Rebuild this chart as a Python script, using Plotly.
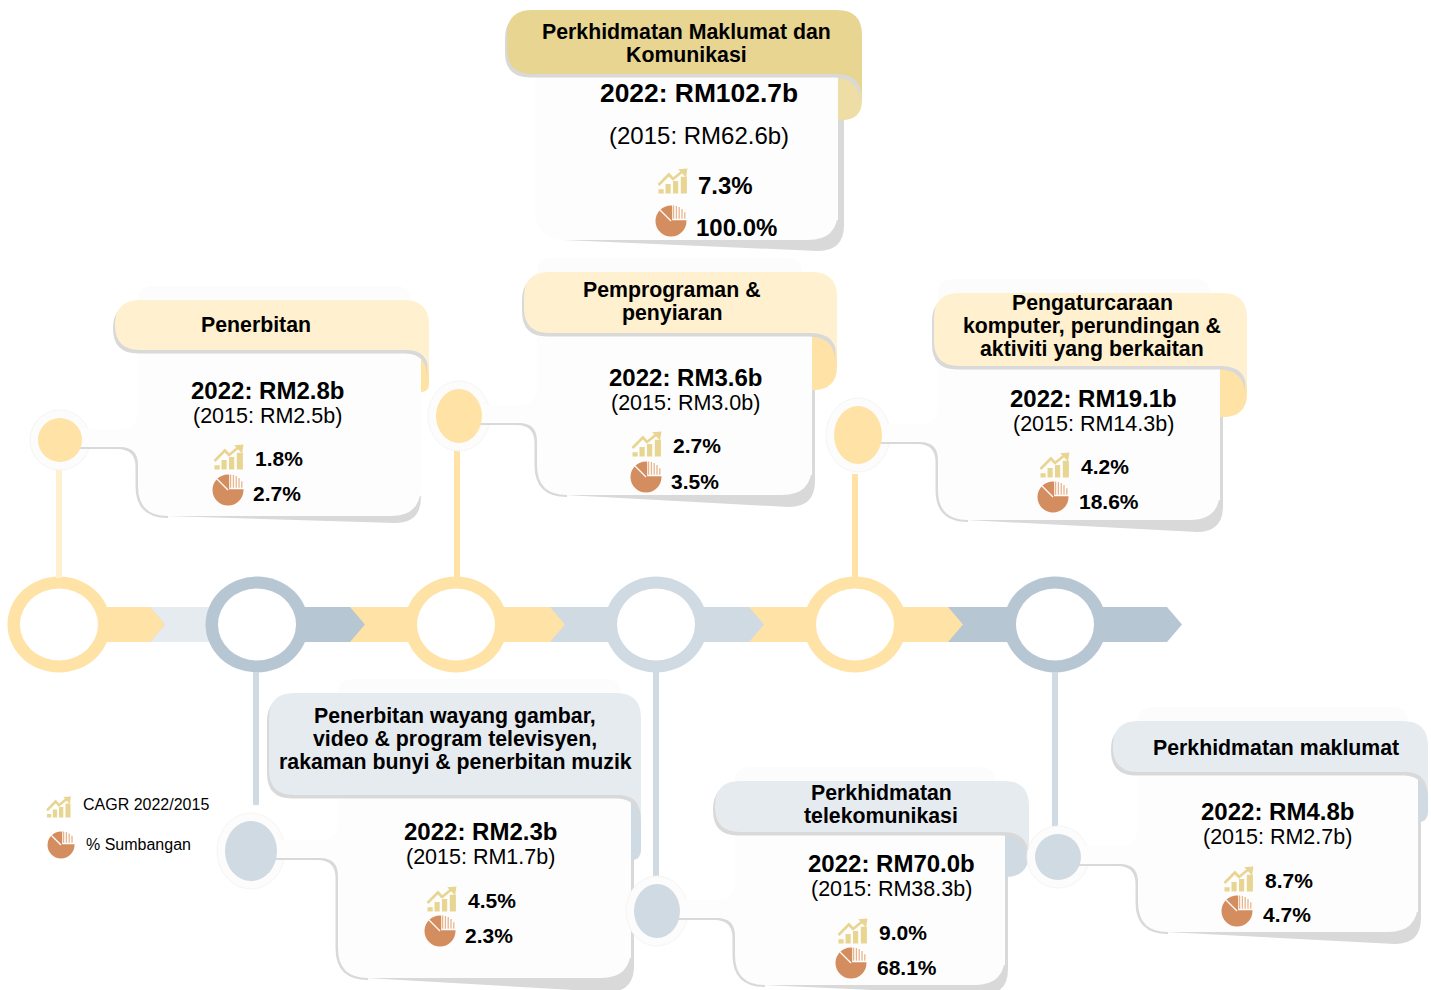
import math
import plotly.graph_objects as go

# ---------- data ----------
title_lines = [
    ["Perkhidmatan Maklumat dan", "Komunikasi"],
    ["Penerbitan"],
    ["Pemprograman &", "penyiaran"],
    ["Pengaturcaraan", "komputer, perundingan &", "aktiviti yang berkaitan"],
    ["Penerbitan wayang gambar,", "video & program televisyen,", "rakaman bunyi & penerbitan muzik"],
    ["Perkhidmatan", "telekomunikasi"],
    ["Perkhidmatan maklumat"],
]
value_2022 = [102.7, 2.8, 3.6, 19.1, 2.3, 70.0, 4.8]
value_2015 = [62.6, 2.5, 3.0, 14.3, 1.7, 38.3, 2.7]
cagr_pct = [7.3, 1.8, 2.7, 4.2, 4.5, 9.0, 8.7]
share_pct = [100.0, 2.7, 3.5, 18.6, 2.3, 68.1, 4.7]
legend_labels = ["CAGR 2022/2015", "% Sumbangan"]

# ---------- layout / styling (pixel space) ----------
FONT = "Liberation Sans"
YEL, YEL_L = "#FFE2A6", "#FFF0CF"
GR, GR_L, GR_D = "#CFDAE2", "#E6EBF0", "#B7C6D3"
SHADOW = "#D9D9D9"
BODY = "#FDFDFD"
HALO = "#FCFCFC"
ICON = "#E8D592"
PIE = "#D38D5F"

shapes = []
notes = []


def add_path(d, fill=None, line=None, lw=0):
    s = dict(type="path", path=d, xref="x", yref="y", layer="above")
    s["fillcolor"] = fill if fill else "rgba(0,0,0,0)"
    s["line"] = dict(color=line, width=lw) if line else dict(width=0)
    shapes.append(s)


def ell(cx, cy, rx, ry, fill, line=None, lw=0):
    shapes.append(dict(type="circle", xref="x", yref="y", x0=cx - rx, x1=cx + rx, y0=cy - ry, y1=cy + ry,
                       fillcolor=fill, line=dict(color=line, width=lw) if line else dict(width=0), layer="above"))


def text(x, y, s, size, bold=True, anchor="center"):
    notes.append(dict(x=x, y=y, xref="x", yref="y", text=f"<b>{s}</b>" if bold else s, showarrow=False,
                      xanchor=anchor, yanchor="middle", align="center",
                      font=dict(family=FONT, size=size, color="#000000"), borderpad=0, borderwidth=0))


def header_path(x0, y0, x1, yb, cw, cr, r=25, dx=0, dy=0):
    return (f"M{x0+r+dx},{y0+dy} L{x1-r+dx},{y0+dy} Q{x1+dx},{y0+dy} {x1+dx},{y0+r+dy} "
            f"L{x1+dx},{yb+cr+dy} Q{x1+dx},{yb+dy} {x1-cw+dx},{yb+dy} "
            f"L{x0+r+dx},{yb+dy} Q{x0+dx},{yb+dy} {x0+dx},{yb-r+dy} L{x0+dx},{y0+r+dy} Q{x0+dx},{y0+dy} {x0+r+dx},{y0+dy} Z")


def body_path(bx0, yb, bx1, bot, nx=None, ny=None, up=11, dn=7, R=30, r=18):
    d = f"M{bx0},{yb} "
    if nx is not None:
        d += (f"L{bx0},{ny-up-r} Q{bx0},{ny-up} {bx0-r},{ny-up} L{nx},{ny-up} "
              f"L{nx},{ny+dn} L{bx0-r},{ny+dn} Q{bx0},{ny+dn} {bx0},{ny+dn+r} ")
    d += (f"L{bx0},{bot-R} Q{bx0},{bot} {bx0+R},{bot} L{bx1-R},{bot} "
          f"Q{bx1},{bot} {bx1},{bot-R} L{bx1},{yb} Z")
    return d


def lower_shadow(bx0, bot, nx, ny, dn=7, R=30, r=18, ox=2.5, oy=2):
    x = bx0 - ox
    y = ny + dn + oy
    return (f"M{nx},{y} L{x-r},{y} Q{x},{y} {x},{y+r} L{x},{bot-R} Q{x},{bot+oy} {bx0+R},{bot+oy} "
            f"L{bx0+R},{ny} L{nx},{ny} Z")


def icon(cx, cy, w=29, h=25):
    x = cx - w / 2
    b = cy + h / 2
    t = cy - h / 2
    bars = [(0.00, 0.18, 0.17), (0.24, 0.42, 0.375), (0.50, 0.68, 0.50), (0.77, 0.98, 0.67)]
    d = ""
    for a, c, f in bars:
        d += f"M{x+a*w:.1f},{b:.1f} L{x+c*w:.1f},{b:.1f} L{x+c*w:.1f},{b-f*h:.1f} L{x+a*w:.1f},{b-f*h:.1f} Z "
    add_path(d, fill=ICON)
    d2 = (f"M{x:.1f},{b-0.34*h:.1f} L{x+0.36*w:.1f},{b-0.76*h:.1f} L{x+0.50*w:.1f},{b-0.58*h:.1f} "
          f"L{x+0.84*w:.1f},{b-0.90*h:.1f}")
    add_path(d2, line=ICON, lw=2.6)
    d3 = f"M{x+0.68*w:.1f},{t+0.03*h:.1f} L{x+w:.1f},{t:.1f} L{x+0.95*w:.1f},{t+0.36*h:.1f} Z"
    add_path(d3, fill=ICON)


def arc_pts(cx, cy, r, a0, a1, n=14):
    return [(cx + r * math.cos(math.radians(a0 + (a1 - a0) * i / n)),
             cy - r * math.sin(math.radians(a0 + (a1 - a0) * i / n))) for i in range(n + 1)]


def pie(cx, cy, r=15.5):
    ell(cx, cy, r, r, PIE)
    qx, qy = cx + 1.2, cy - 0.8
    pts = arc_pts(qx, qy, r, 0, 90)
    d = f"M{qx:.1f},{qy:.1f} " + " ".join(f"L{a:.1f},{b:.1f}" for a, b in pts) + " Z"
    add_path(d, fill="#FFFFFF")
    d = ""
    xx = qx + 1.4
    while xx < qx + r - 1:
        top = qy - math.sqrt(max((r - 0.6) ** 2 - (xx - qx) ** 2, 0))
        d += f"M{xx:.1f},{qy-1.5:.1f} L{xx:.1f},{top:.1f} "
        xx += 2.8
    add_path(d, line="#E8B48C", lw=1.3)
    s = f"M{cx:.1f},{cy:.1f} L{cx + r*math.cos(math.radians(135)):.1f},{cy - r*math.sin(math.radians(135)):.1f}"
    add_path(s, line="#FFFFFF", lw=1.2)


# ---------- timeline ----------
centers = [59, 257, 456, 656, 855, 1055]
tips = [165, 365, 565, 764, 963, 1182]
seg_cols = [YEL, GR_D, YEL, GR, YEL, GR_D]
Y0, Y1, YM = 607, 642, 624.5
for i in range(5, -1, -1):
    tip, col = tips[i], seg_cols[i]
    base = centers[0] if i == 0 else tips[i - 1] - 15
    add_path(f"M{base},{Y0} L{tip-15},{Y0} L{tip},{YM} L{tip-15},{Y1} L{base},{Y1} Z", fill=col)
add_path(f"M150,{Y0} L{centers[1]},{Y0} L{centers[1]},{Y1} L150,{Y1} L165,{YM} Z", fill=GR_L)
add_path(f"M{centers[0]},{Y0} L150,{Y0} L165,{YM} L150,{Y1} L{centers[0]},{Y1} Z", fill=YEL)

ring_cols = [YEL, GR_D, YEL, GR, YEL, GR_D]
for cx, c in zip(centers, ring_cols):
    ell(cx, 624.5, 51.5, 48, c)
    ell(cx, 624.5, 39, 36, "#FFFFFF")

# ---------- vertical stems ----------
stems = [(59, 470, 578, YEL_L), (256, 672, 805, GR), (457, 450, 578, YEL),
         (656, 672, 885, GR), (855, 474, 578, YEL), (1055, 672, 830, GR)]
for x, a, b, c in stems:
    add_path(f"M{x},{a} L{x},{b}", line=c, lw=6)

# ---------- cards ----------
cards = [
    dict(i=0, hx0=507, hy0=10, hx1=862, hyb=74, bx0=535, bx1=838, bot=240, fbot=120, fr=20, sx=6, sy=11, cw=26, cr=26,
         head="#E8D592", fold="#EEDDA5", t_x=686, t_y=[32, 55],
         y22=93, y15=135.5, s22=26.4, s15=24, tx=699, ic=(673, 181), c_x=698, c_y=185.5, p=(671, 221), s_x=696, s_y=227.5, ps=24),
    dict(i=1, hx0=115, hy0=300, hx1=429, hyb=350, bx0=138, bx1=421, bot=516, fbot=392, fr=8, sx=0, sy=7, cw=22, cr=24,
         node=(60, 440, 22, 22), head=YEL_L, fold=YEL, t_x=256, t_y=[325],
         y22=390.5, y15=416, s22=24, s15=21.5, tx=267, ic=(229, 457), c_x=255, c_y=458.5, p=(228, 490), s_x=253, s_y=493.5, ps=21),
    dict(i=2, hx0=524, hy0=272, hx1=837, hyb=333, bx0=537, bx1=812, bot=495, fbot=390, fr=24, sx=3, sy=12, cw=26, cr=26,
         node=(459, 416, 23, 27), head=YEL_L, fold=YEL, t_x=672, t_y=[290, 313],
         y22=377.5, y15=403, s22=24, s15=21.5, tx=685, ic=(647, 444), c_x=673, c_y=445.5, p=(646, 477), s_x=671, s_y=481.5, ps=21),
    dict(i=3, hx0=934, hy0=293, hx1=1247, hyb=366, bx0=938, bx1=1220, bot=520, fbot=417, fr=24, sx=3, sy=12, cw=26, cr=26,
         node=(858, 435, 24, 29), head=YEL_L, fold=YEL, t_x=1092, t_y=[303, 326, 349],
         y22=398.5, y15=424, s22=24, s15=21.5, tx=1093, ic=(1055, 465), c_x=1081, c_y=466.5, p=(1053, 497), s_x=1079, s_y=501.5, ps=21),
    dict(i=4, hx0=269, hy0=693, hx1=641, hyb=795, bx0=338, bx1=631, bot=978, fbot=860, fr=10, sx=3, sy=14, cw=22, cr=26,
         node=(251, 851, 26, 30), head=GR_L, fold=GR, t_x=455, t_y=[716, 739, 762],
         y22=831.5, y15=857, s22=24, s15=21.5, tx=480, ic=(442, 899), c_x=468, c_y=900.5, p=(440, 931), s_x=465, s_y=935.5, ps=21),
    dict(i=5, hx0=715, hy0=781, hx1=1029, hyb=832, bx0=735, bx1=1005, bot=985, fbot=877, fr=24, sx=3, sy=10, cw=26, cr=26,
         node=(657, 911, 23, 27), head=GR_L, fold=GR, t_x=881, t_y=[793, 816],
         y22=863.5, y15=889, s22=24, s15=21.5, tx=891, ic=(853, 931), c_x=879, c_y=932.5, p=(851, 963), s_x=877, s_y=967.5, ps=21),
    dict(i=6, hx0=1113, hy0=721, hx1=1428, hyb=772, bx0=1138, bx1=1418, bot=932, fbot=822, fr=10, sx=3, sy=12, cw=22, cr=26,
         node=(1058, 857, 23, 23), head=GR_L, fold=GR, t_x=1276, t_y=[748],
         y22=811.5, y15=837, s22=24, s15=21.5, tx=1277, ic=(1239, 879), c_x=1265, c_y=880.5, p=(1237, 911), s_x=1263, s_y=914.5, ps=21),
]
TITLE_SIZE = 21.3

for c in cards:
    i = c["i"]
    hx0, hy0, hx1, hyb, bx0, bx1, bot = c["hx0"], c["hy0"], c["hx1"], c["hyb"], c["bx0"], c["bx1"], c["bot"]
    node = c.get("node")
    nx, ny = (node[0], node[1]) if node else (None, None)
    # faint halo behind the card
    if node:
        hr = 16
        add_path(f"M{bx0+hr},{hy0-14} L{bx1-hr-10},{hy0-14} Q{bx1-10},{hy0-14} {bx1-10},{hy0} L{bx1-10},{hyb} "
                 f"L{bx0},{hyb} L{bx0},{hy0} Q{bx0},{hy0-14} {bx0+hr},{hy0-14} Z", fill=HALO)
        ell(node[0], node[1], node[2] + 8, node[3] + 8, HALO, line="#F5F5F5", lw=1)
    # shadow
    sx, sy = c["sx"], c["sy"]
    R = 26
    add_path(f"M{bx1},{hyb} L{bx1+sx},{hyb} L{bx1+sx},{bot+sy-R} Q{bx1+sx},{bot+sy} {bx1+sx-R},{bot+sy} "
             f"L{bx0+28},{bot} L{bx1},{bot-20} Z", fill=SHADOW)
    # lower fold
    fx, fr = bx1 - 4, c["fr"]
    add_path(f"M{fx},{hyb} L{hx1},{hyb} L{hx1},{c['fbot']-fr} Q{hx1},{c['fbot']} {hx1-fr},{c['fbot']} L{fx},{c['fbot']} Z",
             fill=c["fold"])
    # card body + connector with its shadow
    if node:
        add_path(lower_shadow(bx0, bot, nx, ny), fill=SHADOW)
    add_path(body_path(bx0, hyb, bx1, bot, nx, ny), fill=BODY)
    # header + its shadow
    add_path(header_path(hx0, hy0, hx1, hyb, c["cw"], c["cr"], dx=-2, dy=3.5), fill=SHADOW)
    add_path(header_path(hx0, hy0, hx1, hyb, c["cw"], c["cr"]), fill=c["head"])
    # node on top
    if node:
        ell(node[0], node[1], node[2], node[3], c["fold"])
    # texts
    for ln, y in zip(title_lines[i], c["t_y"]):
        text(c["t_x"], y, ln, TITLE_SIZE)
    text(c["tx"], c["y22"], f"2022: RM{value_2022[i]:.1f}b", c["s22"])
    text(c["tx"], c["y15"], f"(2015: RM{value_2015[i]:.1f}b)", c["s15"], bold=False)
    icon(*c["ic"])
    pie(*c["p"])
    text(c["c_x"], c["c_y"], f"{cagr_pct[i]:.1f}%", c["ps"], anchor="left")
    text(c["s_x"], c["s_y"], f"{share_pct[i]:.1f}%", c["ps"], anchor="left")

# ---------- legend ----------
icon(59, 807, 24, 21)
pie(61, 845, 13.5)
text(83, 804, legend_labels[0], 16, bold=False, anchor="left")
text(86, 844, legend_labels[1], 16, bold=False, anchor="left")

fig = go.Figure()
fig.add_trace(go.Scatter(x=[0, 1431], y=[0, 990], mode="markers", marker=dict(opacity=0), hoverinfo="skip", showlegend=False))
fig.update_layout(
    width=1431, height=990, margin=dict(l=0, r=0, t=0, b=0),
    paper_bgcolor="#FFFFFF", plot_bgcolor="#FFFFFF",
    xaxis=dict(range=[0, 1431], visible=False, fixedrange=True),
    yaxis=dict(range=[990, 0], visible=False, fixedrange=True),
    shapes=shapes, annotations=notes, showlegend=False,
)
fig.write_html("out.html", config=dict(displayModeBar=False),
               post_script="document.body.style.margin='0';document.body.style.overflow='hidden';")
